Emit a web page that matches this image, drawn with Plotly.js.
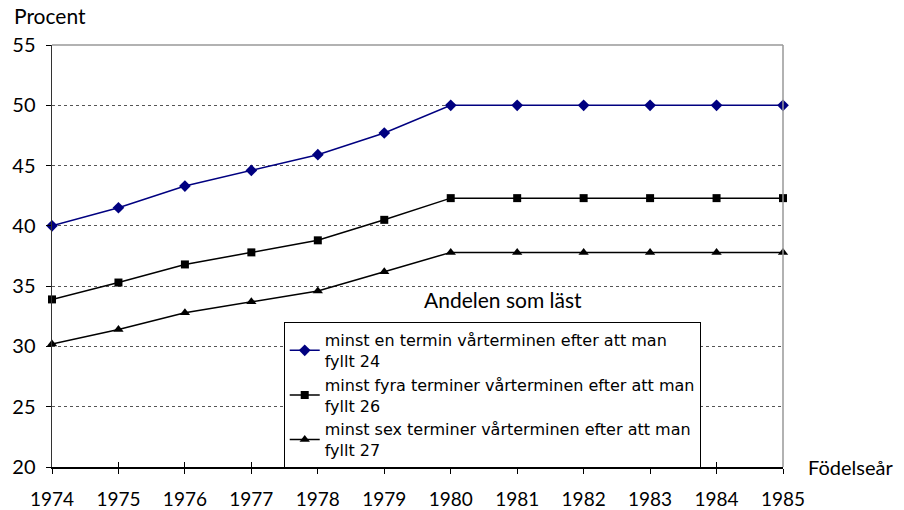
<!DOCTYPE html>
<html>
<head>
<meta charset="utf-8">
<script src="https://cdn.plot.ly/plotly-3.0.1.min.js"></script>
<style>html,body{margin:0;padding:0;background:#fff;}#chart{width:904px;height:510px;}</style>
</head>
<body>
<div id="chart"></div>
<script>
const years = [1974,1975,1976,1977,1978,1979,1980,1981,1982,1983,1984,1985];
const enTermin = [40.0,41.5,43.3,44.6,45.9,47.7,50.0,50.0,50.0,50.0,50.0,50.0];
const fyraTerminer = [33.9,35.3,36.8,37.8,38.8,40.5,42.3,42.3,42.3,42.3,42.3,42.3];
const sexTerminer = [30.2,31.4,32.8,33.7,34.6,36.2,37.8,37.8,37.8,37.8,37.8,37.8];
const seriesNames = [
  "minst en termin vårterminen efter att man<br>fyllt 24",
  "minst fyra terminer vårterminen efter att man<br>fyllt 26",
  "minst sex terminer vårterminen efter att man<br>fyllt 27"
];
const yTicks = [20,25,30,35,40,45,50,55];
const FONT = "Lato, 'Open Sans', sans-serif";
const LEGEND_FONT = "'DejaVu Sans', sans-serif";

const traces = [
  {x: years, y: enTermin, name: seriesNames[0], mode: "lines+markers",
   line: {color: "#000080", width: 1.5}, marker: {symbol: "diamond", size: 9, color: "#000080"}, cliponaxis: false},
  {x: years, y: fyraTerminer, name: seriesNames[1], mode: "lines+markers",
   line: {color: "#000000", width: 1.5}, marker: {symbol: "square", size: 8, color: "#000000"}, cliponaxis: false},
  {x: years, y: sexTerminer, name: seriesNames[2], mode: "lines+markers",
   line: {color: "#000000", width: 1.5}, marker: {symbol: "triangle-up", size: 9, color: "#000000"}, cliponaxis: false},
  {x: years, y: sexTerminer, xaxis: "x2", yaxis: "y", mode: "none", showlegend: false, hoverinfo: "skip"}
];

const layout = {
  width: 904, height: 510,
  margin: {l: 52, r: 121, t: 45, b: 43},
  paper_bgcolor: "#fff", plot_bgcolor: "#fff",
  font: {family: FONT, size: 20, color: "#000"},
  showlegend: true,
  legend: {x: 0.317, y: 0.3436, xanchor: "left", yanchor: "top",
           bgcolor: "#fff", bordercolor: "#000", borderwidth: 1,
           font: {family: LEGEND_FONT, size: 16, color: "#000"}, tracegroupgap: 0},
  xaxis: {range: [1974, 1985], tickmode: "array", tickvals: years, ticktext: years.map(String),
          showgrid: false, zeroline: false, showline: true, linecolor: "#000", linewidth: 1.5,
          ticks: "outside", ticklen: 5, tickcolor: "#000", ticklabelstandoff: 10,
          tickfont: {family: FONT, size: 19}},
  xaxis2: {range: [1974, 1985], overlaying: "x", side: "bottom", tickmode: "array", tickvals: years,
           showticklabels: false, showgrid: false, zeroline: false, showline: false,
           ticks: "inside", ticklen: 5, tickcolor: "#000"},
  yaxis: {range: [20, 55], tickmode: "array", tickvals: yTicks,
          showgrid: true, gridcolor: "#555", griddash: "dot", gridwidth: 1,
          zeroline: false, showline: true, linecolor: "#333", linewidth: 1.5,
          ticks: "outside", ticklen: 5, tickcolor: "#000", ticklabelstandoff: 6,
          tickfont: {family: FONT, size: 20}},
  shapes: [
    {type: "line", xref: "paper", yref: "paper", x0: 0, x1: 1, y0: 1, y1: 1, line: {color: "#999", width: 1.5}},
    {type: "line", xref: "paper", yref: "paper", x0: 1, x1: 1, y0: 0, y1: 1, line: {color: "#999", width: 1.5}}
  ],
  annotations: [
    {text: "Procent", xref: "paper", yref: "paper", x: -0.0547, y: 1.069, xanchor: "left", yanchor: "middle",
     showarrow: false, font: {family: FONT, size: 21}},
    {text: "Födelseår", xref: "paper", yref: "paper", x: 1.0315, y: 0.0, xanchor: "left", yanchor: "middle",
     showarrow: false, font: {family: FONT, size: 20}},
    {text: "Andelen som läst", xref: "paper", yref: "paper", x: 0.617, y: 0.396, xanchor: "center", yanchor: "middle",
     showarrow: false, font: {family: FONT, size: 21}}
  ]
};

Plotly.newPlot("chart", traces, layout, {displayModeBar: false, staticPlot: true});
</script>
</body>
</html>
